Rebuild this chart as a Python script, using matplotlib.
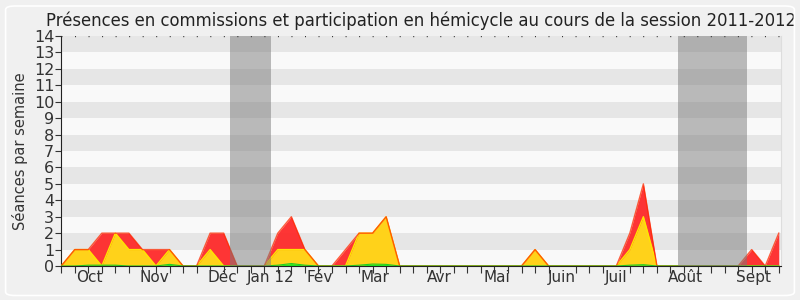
import numpy as np
import matplotlib
matplotlib.use("Agg")
import matplotlib.pyplot as plt
from matplotlib.patches import FancyBboxPatch

# semaines de la session, de fin septembre 2011 a fin septembre 2012
semaines = np.arange(54)
hemicycle = [0, 1, 1, 2, 2, 2, 1, 1, 1, 0, 0, 2, 2, 0, 0, 0, 2, 3, 1, 0,
             0, 1, 2, 2, 3, 0, 0, 0, 0, 0, 0, 0, 0, 0, 0, 1, 0, 0, 0, 0,
             0, 0, 2, 5, 0, 0, 0, 0, 0, 0, 0, 1, 0, 2]
commission = [0, 1, 1, 0, 2, 1, 1, 0, 1, 0, 0, 1, 0, 0, 0, 0, 1, 1, 1, 0,
              0, 0, 2, 2, 3, 0, 0, 0, 0, 0, 0, 0, 0, 0, 0, 1, 0, 0, 0, 0,
              0, 0, 1, 3, 0, 0, 0, 0, 0, 0, 0, 0, 0, 0]
interventions = [0, 0, 0.05, 0.05, 0.05, 0, 0, 0, 0.1, 0, 0, 0, 0, 0, 0, 0, 0.05, 0.15, 0.05, 0,
                 0, 0, 0.05, 0.12, 0.1, 0, 0, 0, 0, 0, 0, 0, 0, 0, 0, 0, 0, 0, 0, 0,
                 0, 0, 0.05, 0.08, 0, 0, 0, 0, 0, 0, 0, 0, 0, 0]
mois = ["Oct", "Nov", "Déc", "Jan 12", "Fév", "Mar", "Avr", "Mai", "Juin", "Juil", "Août", "Sept"]
mois_pos = [2.1, 6.9, 11.9, 15.5, 19.1, 23.2, 27.9, 32.2, 37.0, 41.0, 46.1, 51.1]
vacances = [(12.45, 15.5), (45.55, 50.65)]

fig = plt.figure(figsize=(8, 3), dpi=100)
fig.patch.set_facecolor("#f0f0f0")
fig.patches.append(FancyBboxPatch((0.007, 0.015), 0.986, 0.965, boxstyle="round,pad=0,rounding_size=0.012",
                                  transform=fig.transFigure, facecolor="none",
                                  edgecolor="white", linewidth=1.2))
ax = fig.add_axes([0.0765, 0.1133, 0.8995, 0.7667])
ax.set_facecolor("#f9f9f9")

for y in range(1, 14, 2):
    ax.axhspan(y, y + 1, color="#e6e6e6", zorder=0, lw=0)

ax.fill_between(semaines, hemicycle, color="#ff2020", alpha=0.9, lw=0, zorder=2)
ax.fill_between(semaines, commission, color="#ffd21a", lw=0, zorder=3)
ax.plot(semaines, commission, color="#ffe600", lw=1, zorder=3)
ax.fill_between(semaines, interventions, color="#22ee22", lw=0, zorder=4)
ax.plot(semaines, hemicycle, color="#ff2a00", lw=1, alpha=0.75, zorder=5)
ax.plot(semaines, interventions, color="#22cc22", lw=0.8, zorder=5)

for a, b in vacances:
    ax.axvspan(a, b, color="#7a7a7a", alpha=0.5, lw=0, zorder=6)

ax.set_xlim(0, 53.15)
ax.set_ylim(0, 14)
ax.set_yticks(range(15))
ax.set_xticks(mois_pos)
ax.set_xticklabels(mois)
ax.set_xticks(semaines, minor=True)
ax.tick_params(axis="x", which="major", length=0, labelsize=11, colors="#333333", pad=3)
ax.tick_params(axis="x", which="minor", length=5, width=0.8, color="#333333")
ax.tick_params(axis="y", length=4, width=0.8, labelsize=11.5, colors="#333333", pad=1)

ax.spines["top"].set_visible(False)
ax.spines["right"].set_color("#dddddd")
ax.spines["left"].set_color("#222222")
ax.spines["bottom"].set_color("#222222")
ax.spines["bottom"].set_zorder(7)
# pointilles du haut, un point par semaine
ax.hlines(14, 0, 53.15, colors="#333333", linestyles=(0, (0.72, 9.02)), lw=1, zorder=7)

ax.set_ylabel("Séances par semaine", fontsize=10.5, color="#333333", labelpad=4)
ax.set_title("Présences en commissions et participation en hémicycle au cours de la session 2011-2012",
             fontsize=11.9, color="#222222", pad=7)

fig.savefig("out.png", dpi=100, facecolor=fig.get_facecolor())
